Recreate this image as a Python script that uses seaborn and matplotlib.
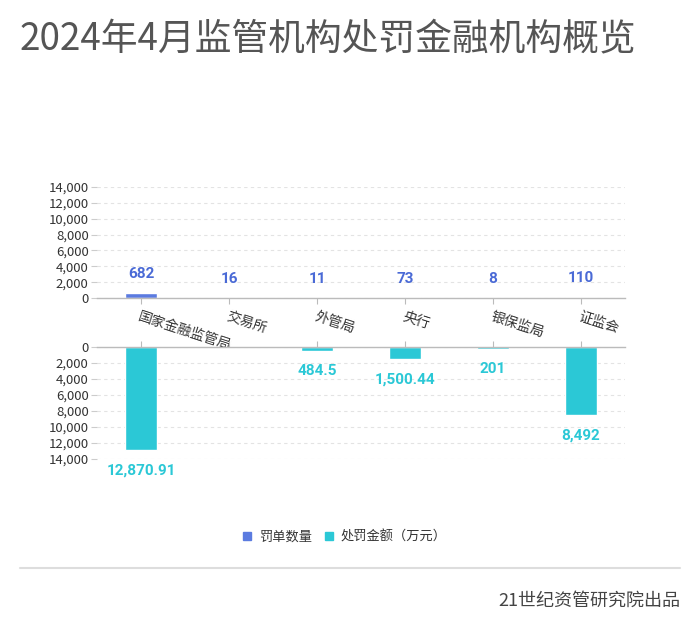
import matplotlib
matplotlib.use("Agg")
import matplotlib.pyplot as plt
import seaborn as sns
import pandas as pd
from matplotlib.patches import Patch
from matplotlib.lines import Line2D
from matplotlib.ticker import FuncFormatter

sns.set_theme(style="white")
plt.rcParams['font.family'] = ['Noto Sans CJK SC', 'DejaVu Sans']

categories = ["国家金融监管局", "交易所", "外管局", "央行", "银保监局", "证监会"]
counts = [682, 16, 11, 73, 8, 110]
amounts = [12870.91, 0, 484.5, 1500.44, 201, 8492]
amount_labels = ["12,870.91", "", "484.5", "1,500.44", "201", "8,492"]
yticks = [0, 2000, 4000, 6000, 8000, 10000, 12000, 14000]

title = "2024年4月监管机构处罚金融机构概览"
legend_labels = ["罚单数量", "处罚金额（万元）"]
footer = "21世纪资管研究院出品"

c_count = "#5B7BE0"
c_count_txt = "#4A6AD6"
c_amt = "#2BC8D6"

W, H = 700, 632
fig = plt.figure(figsize=(7, 6.32), dpi=100)

def ax_rect(x0, y0, x1, y1):
    return [x0 / W, 1 - y1 / H, (x1 - x0) / W, (y1 - y0) / H]

df = pd.DataFrame({"cat": categories, "count": counts, "amount": amounts})

fmt = FuncFormatter(lambda v, p: f"{int(v):,}")
num_font = ["Roboto", "DejaVu Sans"]

# Top axes
ax1 = fig.add_axes(ax_rect(97, 187, 625, 298))
sns.barplot(data=df, x="cat", y="count", color=c_count, width=0.36, ax=ax1, saturation=1)
ax1.set_ylim(0, 14000)
ax1.set_xlim(-0.5, 5.5)
ax1.set_yticks(yticks)
ax1.yaxis.set_major_formatter(fmt)
ax1.set_xlabel("")
ax1.set_ylabel("")
for i, v in enumerate(counts):
    ax1.annotate(f"{v:,}", (i, v), xytext=(0, 13.5), textcoords="offset points",
                 ha="center", va="center", color=c_count_txt, fontsize=11,
                 fontweight="bold", family=num_font)
ax1.set_xticks(range(len(categories)))
ax1.set_xticklabels(categories, rotation=-18, ha="left", va="top",
                    rotation_mode="anchor", fontsize=10, color="#333333")
for t in ax1.get_xticklabels():
    t.set_x(t.get_position()[0])

# Bottom axes
ax2 = fig.add_axes(ax_rect(97, 347, 625, 459))
sns.barplot(data=df, x="cat", y="amount", color=c_amt, width=0.36, ax=ax2, saturation=1)
ax2.set_ylim(14000, 0)
ax2.set_xlim(-0.5, 5.5)
ax2.set_yticks(yticks)
ax2.yaxis.set_major_formatter(fmt)
ax2.set_xlabel("")
ax2.set_ylabel("")
ax2.xaxis.tick_top()
ax2.set_xticks(range(len(categories)))
ax2.set_xticklabels([])
for i, (v, lab) in enumerate(zip(amounts, amount_labels)):
    if lab:
        ax2.annotate(lab, (i, v), xytext=(0, -14.5), textcoords="offset points",
                     ha="center", va="center", color=c_amt, fontsize=11,
                     fontweight="bold", family=num_font)

for ax, zero_spine in ((ax1, "bottom"), (ax2, "top")):
    for s in ax.spines.values():
        s.set_visible(False)
    ax.spines[zero_spine].set_visible(True)
    ax.spines[zero_spine].set_color("#BBBBBB")
    ax.spines[zero_spine].set_linewidth(1)
    ax.grid(axis="y", linestyle=(0, (3, 3)), color="#E3E3E3", linewidth=0.8)
    ax.set_axisbelow(True)
    ax.tick_params(axis="y", length=4, width=0.8, color="#CCCCCC", labelsize=9.5,
                   labelcolor="#333333", pad=2, left=True)
    ax.tick_params(axis="x", length=4, width=0.8, color="#BBBBBB", pad=4)
    if zero_spine == "bottom":
        ax.tick_params(axis="x", bottom=True, top=False)
    else:
        ax.tick_params(axis="x", bottom=False, top=True)

# Title
fig.text(20 / W, 1 - 40 / H, title, fontsize=26.5, color="#555555", ha="left", va="center")

# Legend
handles = [Patch(color=c_count), Patch(color=c_amt)]
fig.legend(handles, legend_labels, loc="center", bbox_to_anchor=(345 / W, 1 - 537 / H),
           ncol=2, frameon=False, fontsize=9.5, handlelength=0.6, handleheight=0.6,
           handletextpad=0.6, columnspacing=1.0, labelcolor="#333333")

# Separator line
fig.add_artist(Line2D([20 / W, 680 / W], [1 - 568 / H, 1 - 568 / H],
                      transform=fig.transFigure, color="#DDDDDD", linewidth=1.5))

# Footer
fig.text(680 / W, 1 - 601 / H, footer, fontsize=13, color="#444444", ha="right", va="center")

fig.savefig("out.png", dpi=100)
